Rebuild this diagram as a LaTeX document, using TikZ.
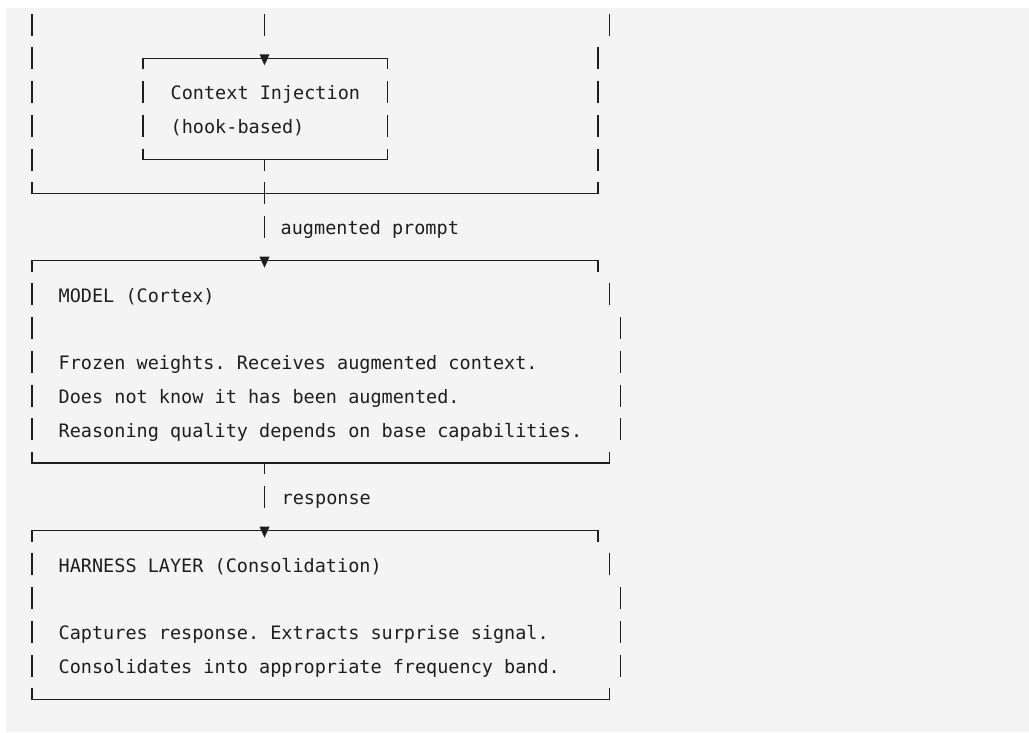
\documentclass[tikz,border=0pt]{standalone}
\usepackage{fontspec}
\setmonofont{DejaVu Sans Mono}
\usepackage{xcolor}
\usepackage{tikz}
\definecolor{inkmain}{HTML}{1E1E1E}
\definecolor{pagegray}{HTML}{F4F4F4}
% row n of the character grid sits at y = 33.74n-9.2 (px, downwards)
\newcommand{\ry}[1]{33.74*#1-9.2}
\newcommand{\vbar}[2]{\draw[glyph] (#1,\ry{#2}-11) -- (#1,\ry{#2}+11);}
\newcommand{\topedge}[3]{\draw[glyph] (#1,\ry{#3}+11) -- (#1,\ry{#3}) -- (#2,\ry{#3}) -- (#2,\ry{#3}+11);}
\newcommand{\botedge}[3]{\draw[glyph] (#1,\ry{#3}-11) -- (#1,\ry{#3}) -- (#2,\ry{#3}) -- (#2,\ry{#3}-11);}
\newcommand{\teedown}[2]{\draw[glyph] (#1,\ry{#2}) -- (#1,\ry{#2}+11);}
\newcommand{\downtip}[2]{\fill[inkmain] (#1-5,\ry{#2}-4) -- (#1+5,\ry{#2}-4) -- (#1,\ry{#2}+7) -- cycle;}
\tikzset{
  glyph/.style={inkmain,line width=1.4pt},
  boxtext/.style={anchor=base west,inner sep=0pt,text=inkmain,
    font=\ttfamily\fontsize{18.5}{22}\selectfont}}

\begin{document}
\begin{tikzpicture}[x=1pt,y=-1pt]
  \useasboundingbox (0,0) rectangle (1029,732);
  \fill[pagegray] (6,7.5) rectangle (1029,732);
  % frame round the injection box, its top cut off
  \foreach \n in {1,...,5} {\vbar{32}{\n}}
  \vbar{609.5}{1}
  \foreach \n in {2,...,5} {\vbar{597.8}{\n}}
  \botedge{32}{597.8}{6}
  \topedge{143}{387.6}{2}
  \foreach \n in {3,4} {\vbar{143}{\n}\vbar{387.6}{\n}}
  \botedge{143}{387.6}{5}
  \node[boxtext] (inject) at (170.5,\ry{3}+7.8) {Context Injection};
  \node[boxtext] (hook) at (170.5,\ry{4}+7.8) {(hook-based)};

  % spine: x=264.5
  \vbar{264.5}{1}\downtip{264.5}{2}
  \teedown{264.5}{5}\vbar{264.5}{6}\vbar{264.5}{7}
  \node[boxtext] (augment) at (280.5,\ry{7}+7.8) {augmented prompt};
  \downtip{264.5}{8}
  \teedown{264.5}{14}\vbar{264.5}{15}
  \node[boxtext] (resp) at (281.5,\ry{15}+7.8) {response};
  \downtip{264.5}{16}

  % model box
  \topedge{32}{597.8}{8}
  \foreach \n in {9,...,13} {\vbar{32}{\n}}
  \vbar{609.5}{9}
  \foreach \n in {10,...,13} {\vbar{620.6}{\n}}
  \botedge{32}{609.5}{14}
  \node[boxtext] (model) at (58.5,\ry{9}+7.8) {MODEL (Cortex)};
  \node[boxtext] (frozen) at (58.5,\ry{11}+7.8) {Frozen weights. Receives augmented context.};
  \node[boxtext] (unaware) at (58.5,\ry{12}+7.8) {Does not know it has been augmented.};
  \node[boxtext] (quality) at (58.5,\ry{13}+7.8) {Reasoning quality depends on base capabilities.};

  % harness box
  \topedge{32}{597.8}{16}
  \foreach \n in {17,...,20} {\vbar{32}{\n}}
  \vbar{609.5}{17}
  \foreach \n in {18,...,20} {\vbar{620.6}{\n}}
  \botedge{32}{609.5}{21}
  \node[boxtext] (harness) at (58.5,\ry{17}+7.8) {HARNESS LAYER (Consolidation)};
  \node[boxtext] (capture) at (58.5,\ry{19}+7.8) {Captures response. Extracts surprise signal.};
  \node[boxtext] (consol) at (58.5,\ry{20}+7.8) {Consolidates into appropriate frequency band.};
\end{tikzpicture}
\end{document}
